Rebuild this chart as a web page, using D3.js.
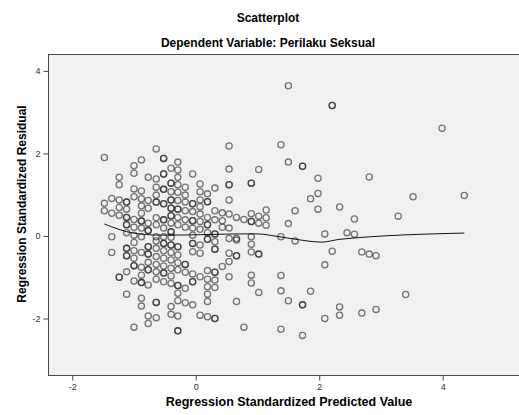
<!DOCTYPE html>
<html>
<head>
<meta charset="utf-8">
<script src="https://cdn.jsdelivr.net/npm/d3@7"></script>
<style>
  body { margin: 0; background: #fff; }
  text { font-family: "Liberation Sans", Arial, sans-serif; }
</style>
</head>
<body>
<div id="chart"></div>
<script>
// predicted value columns and the residuals read in each column
const predicted = [-1.48, -1.36, -1.24, -1.12, -1.00, -0.88, -0.77, -0.64, -0.52, -0.40,
  -0.29, -0.17, -0.05, 0.07, 0.19, 0.31, 0.43, 0.54, 0.66, 0.78, 0.90, 1.02, 1.14,
  1.38, 1.50, 1.61, 1.73, 1.86, 1.98, 2.09, 2.21, 2.33, 2.45, 2.57, 2.69, 2.81, 2.92,
  3.28, 3.40, 3.52, 3.99, 4.35];

const residuals = [
  [1.90, 0.79, 0.61],
  [0.91, 0.55, -0.02, -0.40],
  [1.42, 1.24, 0.87, 0.69, 0.50, -1.00],
  [0.82, 0.65, 0.45, 0.27, 0.08, -0.30, -0.48, -0.87, -1.41],
  [1.70, 1.52, 1.14, 0.95, 0.40, 0.21, 0.02, -0.16, -0.36, -0.54, -0.72, -1.09, -2.21],
  [1.84, 1.09, 0.90, 0.73, 0.55, 0.36, 0.19, -0.02, -0.40, -0.76, -0.95, -1.13, -1.51, -1.70],
  [1.42, 0.86, 0.67, 0.31, 0.13, -0.26, -0.44, -0.64, -0.82, -1.19, -1.94, -2.12],
  [2.11, 1.38, 1.18, 0.99, 0.82, 0.44, 0.27, -0.02, -0.12, -0.30, -0.50, -0.69, -0.87, -1.05, -1.61, -1.98],
  [1.88, 1.50, 1.13, 0.78, 0.39, 0.19, -0.02, -0.18, -0.36, -0.54, -0.73, -0.90, -1.11],
  [1.64, 1.28, 1.07, 0.87, 0.67, 0.49, 0.31, 0.10, -0.03, -0.22, -0.40, -0.58, -0.78, -0.97, -1.15, -1.71, -1.90],
  [1.79, 1.60, 1.42, 1.24, 1.06, 0.86, 0.65, 0.45, 0.27, -0.26, -0.46, -0.65, -0.82, -1.20, -1.39, -1.57, -1.94, -2.30],
  [1.18, 0.99, 0.82, 0.61, 0.39, 0.21, -0.69, -0.88, -1.27, -1.62],
  [1.50, 0.78, 0.59, 0.37, 0.19, 0.02, -0.18, -0.38, -0.92, -1.11, -1.67],
  [1.26, 1.07, 0.87, 0.71, 0.53, 0.35, 0.16, -0.22, -0.42, -0.99, -1.92],
  [1.02, 0.83, 0.45, 0.27, 0.08, -0.08, -0.84, -1.05, -1.23, -1.41, -1.59, -1.96],
  [1.16, 0.61, 0.39, 0.05, -0.14, -0.32, -0.88, -1.07, -1.25, -2.00],
  [0.56, 0.37, 0.21, -0.74],
  [2.18, 1.62, 1.24, 0.87, 0.53, 0.19, -0.06, -0.42, -0.62, -0.99],
  [0.45, -0.06, -0.10, -0.48, -1.59],
  [0.40, -2.21],
  [1.28, 0.54, 0.35, -0.02, -0.20, -0.39, -0.95, -1.14],
  [1.61, 0.48, 0.31, -0.44, -1.37],
  [0.63, 0.44, 0.26],
  [2.21, -0.02, -0.96, -1.33, -2.26],
  [3.64, 1.79, 0.30, -1.57],
  [0.61, -0.12],
  [1.69, -1.67, -2.41],
  [0.90, -1.34],
  [1.40, 1.03, 0.65],
  [0.05, -0.70, -2.00],
  [3.16, -0.37],
  [0.70, -1.72, -1.92],
  [0.08],
  [0.41, 0.04],
  [-0.39, -1.87],
  [1.43, -0.44],
  [-0.48, -1.78],
  [0.48],
  [-1.42],
  [0.95],
  [2.61],
  [0.98]
];

// spots where two cases fall on top of each other
const doubled = [
  [-1.12, 0.82], [-1.12, 0.45], [-0.88, 0.36], [-1.12, 0.27], [-0.77, 0.13], [-0.64, 0.82],
  [-1.12, -0.30], [-0.77, -0.26], [-1.12, -0.48], [-0.77, -0.44], [-1.00, -0.72], [-0.77, -0.82],
  [-1.24, -1.00], [-0.88, -1.13], [-0.64, -1.61],
  [-0.52, 1.88], [-0.52, 1.50], [-0.40, 1.28], [0.54, 1.24], [-0.52, 1.13], [-0.52, 0.78],
  [-0.40, 0.87], [-0.05, 0.78], [0.19, 0.83], [-0.40, 0.67], [-0.29, 0.65], [-0.52, 0.39],
  [-0.40, 0.49], [-0.05, 0.37], [0.19, 0.27], [0.31, 0.05], [-0.40, 0.10],
  [-0.52, -0.18], [-0.40, -0.22], [-0.29, -0.26], [-0.05, -0.18], [0.19, -0.08], [0.31, -0.32],
  [0.66, -0.48], [-0.17, -0.69], [0.31, -0.88], [-0.52, -0.90], [-0.29, -1.20], [-0.05, -1.11],
  [0.31, -2.00], [-0.29, -2.30],
  [2.21, 3.16], [1.73, 1.69], [0.90, 1.28], [0.90, 0.35], [1.02, -0.44], [1.73, -1.67]
];

// loess fit line
const fitX = [-1.48, -1.01, -0.58, 0.07, 0.72, 0.99, 1.36, 1.80, 2.04, 2.34, 4.35];
const fitY = [0.29, 0.07, 0.02, 0.03, 0.05, 0.05, -0.02, -0.12, -0.15, -0.08, 0.07];

const xTicks = [-2, 0, 2, 4];
const yTicks = [-2, 0, 2, 4];

const W = 519, H = 415;
const plot = { left: 48, top: 54, right: 530, bottom: 375 };

const svg = d3.select("#chart").append("svg")
  .attr("width", W)
  .attr("height", H);

const x = d3.scaleLinear().domain([-2.393, 5.414]).range([plot.left, plot.right]);
const y = d3.scaleLinear().domain([-3.37, 4.41]).range([plot.bottom, plot.top]);

// plot background
svg.append("rect")
  .attr("x", plot.left + 0.5)
  .attr("y", plot.top + 0.5)
  .attr("width", plot.right - plot.left)
  .attr("height", plot.bottom - plot.top)
  .attr("fill", "#f0f0f0")
  .attr("stroke", "#4a4a4a")
  .attr("stroke-width", 1);

const points = [];
predicted.forEach((px, i) => {
  residuals[i].forEach((r) => points.push([px, r]));
});
doubled.forEach((d) => points.push(d));

svg.append("g")
  .selectAll("circle")
  .data(points)
  .enter()
  .append("circle")
  .attr("cx", (d) => x(d[0]))
  .attr("cy", (d) => y(d[1]))
  .attr("r", 3.1)
  .attr("fill", "none")
  .attr("stroke", "#222")
  .attr("stroke-opacity", 0.6)
  .attr("stroke-width", 1.3);

const line = d3.line()
  .x((d, i) => x(fitX[i]))
  .y((d, i) => y(fitY[i]))
  .curve(d3.curveMonotoneX);

svg.append("path")
  .datum(fitX)
  .attr("d", line)
  .attr("fill", "none")
  .attr("stroke", "#111")
  .attr("stroke-width", 1);

// axes
svg.append("g")
  .attr("transform", `translate(0, ${plot.bottom + 0.5})`)
  .call(d3.axisBottom(x).tickValues(xTicks).tickSize(5).tickPadding(3).tickFormat((d) => String(d)))
  .call((g) => g.select(".domain").remove())
  .call((g) => g.selectAll("line").attr("stroke", "#444"))
  .call((g) => g.selectAll("text").attr("fill", "#333").style("font-size", "9px"));

svg.append("g")
  .attr("transform", `translate(${plot.left + 0.5}, 0)`)
  .call(d3.axisLeft(y).tickValues(yTicks).tickSize(5).tickPadding(3).tickFormat((d) => String(d)))
  .call((g) => g.select(".domain").remove())
  .call((g) => g.selectAll("line").attr("stroke", "#444"))
  .call((g) => g.selectAll("text").attr("fill", "#333").style("font-size", "9px"));

// titles
svg.append("text")
  .attr("x", 268)
  .attr("y", 22)
  .style("text-anchor", "middle")
  .style("font-size", "12px")
  .style("font-weight", "bold")
  .text("Scatterplot");

svg.append("text")
  .attr("x", 268)
  .attr("y", 47)
  .style("text-anchor", "middle")
  .style("font-size", "12px")
  .style("font-weight", "bold")
  .text("Dependent Variable: Perilaku Seksual");

svg.append("text")
  .attr("x", 289)
  .attr("y", 406)
  .style("text-anchor", "middle")
  .style("font-size", "12.5px")
  .style("font-weight", "bold")
  .text("Regression Standardized Predicted Value");

svg.append("text")
  .attr("transform", "rotate(-90)")
  .attr("x", -204)
  .attr("y", 26)
  .style("text-anchor", "middle")
  .style("font-size", "12px")
  .style("font-weight", "bold")
  .text("Regression Standardized Residual");
</script>
</body>
</html>
